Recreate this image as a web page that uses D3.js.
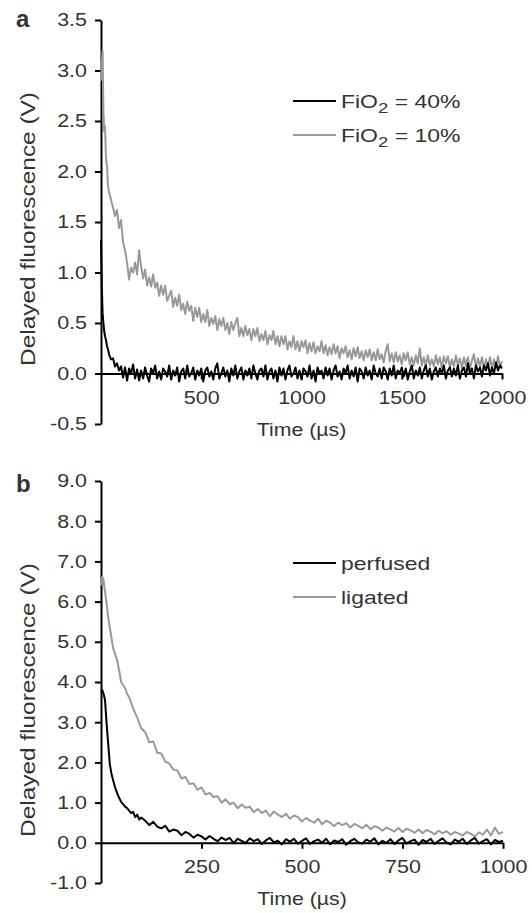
<!DOCTYPE html>
<html>
<head>
<meta charset="utf-8">
<script src="https://cdn.jsdelivr.net/npm/d3@7"></script>
<style>
  body { margin: 0; background: #fff; }
  svg text { font-family: "Liberation Sans", Arial, sans-serif; fill: #333; }
</style>
</head>
<body>
<div id="chart"></div>
<script>
// Panel a: sampling times (µs) and traces (V)
const timeA = [0,4,8,12,16,20,25,30,35,
  40,50,60,70,80,90,100,110,120,130,140,150,160,170,180,190,
  200,210,220,230,240,250,260,270,280,290,300,310,320,330,340,350,360,370,380,390,
  400,410,420,430,440,450,460,470,480,490,500,510,520,530,540,550,560,570,580,590,
  600,610,620,630,640,650,660,670,680,690,700,710,720,730,740,750,760,770,780,790,
  800,810,820,830,840,850,860,870,880,890,900,910,920,930,940,950,960,970,980,990,
  1000,1010,1020,1030,1040,1050,1060,1070,1080,1090,1100,1110,1120,1130,1140,1150,1160,1170,1180,1190,
  1200,1210,1220,1230,1240,1250,1260,1270,1280,1290,1300,1310,1320,1330,1340,1350,1360,1370,1380,1390,
  1400,1410,1420,1430,1440,1450,1460,1470,1480,1490,1500,1510,1520,1530,1540,1550,1560,1570,1580,1590,
  1600,1610,1620,1630,1640,1650,1660,1670,1680,1690,1700,1710,1720,1730,1740,1750,1760,1770,1780,1790,
  1800,1810,1820,1830,1840,1850,1860,1870,1880,1890,1900,1910,1920,1930,1940,1950,1960,1970,1980,1990,2000];

const fio40 = [1.32,0.86,0.6,0.5,0.42,0.37,0.33,0.27,0.24,
  0.19,0.14,0.15,0.07,0.1,0.03,0.07,-0.04,0.06,-0.07,0.05,0.0,0.09,-0.05,0.04,-0.07,
  0.03,-0.05,0.06,-0.02,-0.08,0.05,0.0,0.08,-0.05,0.02,
  -0.06,0.05,0.02,-0.03,0.08,-0.06,0.03,-0.02,0.06,-0.08,
  0.02,0.05,-0.05,0.08,-0.03,0.0,0.06,-0.06,0.03,-0.02,
  0.05,-0.08,0.03,0.06,-0.03,0.02,-0.06,0.05,0.1,-0.05,
  0.0,0.06,-0.03,0.03,-0.08,0.05,-0.02,0.08,-0.05,0.02,
  0.06,-0.06,0.03,-0.02,0.05,-0.05,0.08,0.0,-0.06,0.03,
  0.05,-0.03,0.08,-0.06,0.02,0.05,-0.05,0.03,-0.08,0.06,
  -0.02,0.05,-0.06,0.03,0.08,-0.03,0.0,0.06,-0.05,0.03,
  -0.06,0.05,0.02,-0.03,0.08,-0.05,0.03,-0.08,0.06,0.0,
  0.03,-0.05,0.06,-0.02,0.05,-0.06,0.03,0.08,-0.03,0.02,
  -0.06,0.05,0.0,0.08,-0.05,0.03,-0.03,0.06,-0.08,0.05,
  0.02,-0.05,0.06,-0.02,0.03,-0.06,0.08,0.0,-0.03,0.05,
  -0.05,0.06,0.02,-0.06,0.05,-0.02,0.08,-0.05,0.03,0.0,
  0.06,-0.03,0.05,-0.06,0.02,0.08,-0.05,0.03,-0.02,0.06,
  -0.05,0.03,0.08,-0.03,0.05,-0.06,0.02,0.06,-0.03,0.05,
  0.0,0.08,-0.05,0.03,0.06,-0.03,0.05,-0.02,0.08,-0.05,
  0.03,0.06,-0.03,0.1,0.0,0.05,-0.05,0.08,0.02,0.06,
  -0.03,0.08,0.03,0.1,-0.02,0.06,0.0,0.11,0.03,0.08,
  0.05];

const fio10 = [2.9,3.05,3.2,2.6,2.4,2.45,2.12,2.05,1.85,
  1.8,1.72,1.64,1.56,1.62,1.44,1.52,1.3,1.22,1.1,0.93,1.05,1.0,1.1,0.98,1.22,
  1.06,0.94,1.03,0.87,0.95,0.86,0.98,0.85,0.9,0.77,
  0.87,0.78,0.87,0.72,0.77,0.82,0.66,0.75,0.67,0.78,
  0.63,0.69,0.59,0.71,0.62,0.67,0.52,0.65,0.56,0.65,
  0.51,0.59,0.51,0.63,0.47,0.55,0.49,0.57,0.43,0.54,
  0.47,0.55,0.43,0.5,0.39,0.51,0.43,0.5,0.55,0.37,
  0.45,0.37,0.47,0.38,0.44,0.33,0.44,0.37,0.45,0.32,
  0.39,0.33,0.42,0.29,0.38,0.33,0.42,0.29,0.37,0.27,
  0.37,0.29,0.37,0.24,0.32,0.26,0.37,0.24,0.32,0.22,
  0.32,0.26,0.33,0.2,0.3,0.22,0.31,0.2,0.27,0.22,
  0.32,0.2,0.28,0.18,0.26,0.19,0.29,0.2,0.27,0.15,
  0.25,0.2,0.27,0.16,0.23,0.14,0.25,0.17,0.26,0.15,
  0.22,0.13,0.23,0.16,0.24,0.13,0.21,0.13,0.24,0.14,
  0.19,0.11,0.22,0.29,0.12,0.2,0.11,0.21,0.12,0.18,
  0.09,0.2,0.13,0.21,0.09,0.16,0.08,0.18,0.1,0.25,
  0.08,0.16,0.07,0.18,0.08,0.14,0.07,0.18,0.09,0.16,
  0.06,0.17,0.1,0.17,0.06,0.14,0.07,0.18,0.08,0.15,
  0.05,0.16,0.08,0.16,0.05,0.13,0.19,0.06,0.15,0.07,
  0.16,0.05,0.14,0.07,0.16,0.05,0.14,0.06,0.17,0.07,
  0.12];

// Panel b
const timeB = [0,3,6,10,14,18,22,26,30,35,40,45,50,55,60,65,70,75,80,85,90,95,100,
  110,120,130,140,150,160,170,180,190,200,210,220,230,240,250,260,270,280,290,300,
  310,320,330,340,350,360,370,380,390,400,410,420,430,440,450,460,470,480,490,500,
  510,520,530,540,550,560,570,580,590,600,610,620,630,640,650,660,670,680,690,700,
  710,720,730,740,750,760,770,780,790,800,810,820,830,840,850,860,870,880,890,900,
  910,920,930,940,950,960,970,980,990,1000];

const perfused = [3.75,3.8,3.72,3.55,2.95,2.45,1.95,1.72,1.56,1.38,1.24,1.12,1.02,0.96,0.9,0.86,0.8,0.74,0.77,0.64,0.7,0.58,0.63,
  0.55,0.44,0.52,0.4,0.36,0.42,0.28,0.33,0.3,0.19,
  0.27,0.22,0.13,0.2,0.16,0.08,0.17,0.1,0.04,0.13,
  0.07,0.12,-0.01,0.1,0.05,0.0,0.11,0.04,0.09,-0.03,
  0.06,0.12,0.01,0.05,-0.04,0.09,0.03,0.1,-0.02,0.05,
  0.11,-0.03,0.04,0.08,0.0,0.1,-0.04,0.06,0.02,0.09,
  -0.05,0.04,0.1,0.01,-0.02,0.08,0.03,0.11,-0.04,0.05,
  0.0,0.09,-0.03,0.06,0.12,-0.02,0.04,0.08,-0.05,0.07,
  0.02,0.1,-0.03,0.05,0.11,0.0,-0.04,0.08,0.03,0.1,
  -0.03,0.06,0.12,-0.02,0.04,0.09,-0.04,0.07,0.02,0.05];

const ligated = [6.4,6.62,6.55,6.25,5.95,5.6,5.35,5.1,4.85,4.7,4.55,4.3,4.0,3.92,3.85,3.7,3.62,3.48,3.35,3.22,3.12,2.98,2.85,
  2.75,2.5,2.52,2.24,2.22,2.02,1.97,1.82,1.8,1.6,
  1.64,1.46,1.48,1.32,1.38,1.2,1.24,1.14,1.16,1.0,
  1.08,0.96,1.0,0.86,0.95,0.87,0.9,0.76,0.84,0.74,
  0.8,0.66,0.78,0.7,0.64,0.72,0.6,0.68,0.64,0.53,
  0.62,0.55,0.5,0.6,0.46,0.55,0.5,0.42,0.5,0.44,
  0.49,0.38,0.47,0.42,0.36,0.45,0.34,0.41,0.38,0.3,
  0.38,0.33,0.28,0.37,0.27,0.35,0.31,0.25,0.33,0.24,
  0.32,0.27,0.21,0.3,0.24,0.29,0.2,0.27,0.23,0.18,
  0.27,0.22,0.16,0.26,0.2,0.33,0.18,0.38,0.22,0.27];

// Tick values
const yTicksA = [-0.5,0,0.5,1,1.5,2,2.5,3,3.5];
const xTicksA = [500,1000,1500,2000];
const yTicksB = [-1,0,1,2,3,4,5,6,7,8,9];
const xTicksB = [250,500,750,1000];

const BLACK = "#000", GREY = "#999";
const fmt1 = d => d3.format(".1f")(d).replace("\u2212", "-");

const svg = d3.select("#chart")
    .append("svg")
    .attr("width", 532)
    .attr("height", 913);

// the source lettering is wider than Arial, stretch it a bit
function widen(sel, k) {
    sel.each(function () {
        const w = this.getComputedTextLength();
        d3.select(this).attr("textLength", w * k).attr("lengthAdjust", "spacingAndGlyphs");
    });
}

function drawPanel(p) {
    const x = d3.scaleLinear().domain(p.xDomain).range(p.xRange);
    const y = d3.scaleLinear().domain(p.yDomain).range(p.yRange);
    const g = svg.append("g");

    // y axis
    const ya = g.append("g")
        .attr("transform", `translate(${p.xRange[0]},0)`)
        .call(d3.axisLeft(y).tickValues(p.yTicks).tickFormat(fmt1)
            .tickSize(6).tickSizeOuter(0).tickPadding(8));

    // x axis sits on the zero line
    const xa = g.append("g")
        .attr("transform", `translate(0,${y(0)})`)
        .call(d3.axisBottom(x).tickValues(p.xTicks).tickFormat(d3.format("d"))
            .tickSize(6).tickSizeOuter(0).tickPadding(11));

    [ya, xa].forEach(a => {
        a.select(".domain").attr("stroke", "#000").attr("stroke-width", 2);
        a.selectAll(".tick line").attr("stroke", "#000").attr("stroke-width", 2);
        a.selectAll(".tick text").attr("font-size", 18.5).attr("fill", "#333")
            .style("font-family", '"Liberation Sans", Arial, sans-serif');
        widen(a.selectAll(".tick text"), 1.16);
    });

    // traces, grey underneath
    const line = d3.line()
        .x((d, i) => x(p.time[i]))
        .y(d => y(d));
    p.series.forEach(s => {
        g.append("path")
            .datum(s.values)
            .attr("fill", "none")
            .attr("stroke", s.color)
            .attr("stroke-width", 2)
            .attr("stroke-linejoin", "round")
            .attr("d", line);
    });

    // axis titles
    const tt = g.append("text")
        .attr("x", (p.xRange[0] + p.xRange[1]) / 2)
        .attr("y", y(0) + 62)
        .attr("text-anchor", "middle")
        .attr("font-size", 18.5)
        .text("Time (\u00b5s)");
    widen(tt, 1.15);

    const yt = g.append("text")
        .attr("transform", `translate(35,${p.yLabelY}) rotate(-90)`)
        .attr("text-anchor", "middle")
        .attr("font-size", 20)
        .text("Delayed fluorescence (V)");
    widen(yt, 1.22);

    // panel letter
    g.append("text")
        .attr("x", 16)
        .attr("y", p.letterY)
        .attr("font-size", 24)
        .attr("font-weight", "bold")
        .attr("fill", "#111")
        .text(p.letter);

    // legend, black entry first
    p.series.slice().reverse().forEach((s, i) => {
        const ly = p.legendY + i * 34;
        g.append("line")
            .attr("x1", 293).attr("x2", 336)
            .attr("y1", ly).attr("y2", ly)
            .attr("stroke", s.color).attr("stroke-width", 2);
        const t = g.append("text")
            .attr("x", 341)
            .attr("y", ly + 7)
            .attr("font-size", 18.5);
        if (s.sub) {
            t.append("tspan").text(s.label[0]);
            t.append("tspan").attr("dy", 5).attr("font-size", 15).text(s.sub);
            t.append("tspan").attr("dy", -5).text(s.label[1]);
        } else {
            t.text(s.label);
        }
        widen(t, 1.24);
    });
}

drawPanel({
    letter: "a", letterY: 27,
    xDomain: [0, 2000], xRange: [101, 502],
    yDomain: [-0.5, 3.5], yRange: [424, 20],
    yTicks: yTicksA, xTicks: xTicksA,
    time: timeA,
    yLabelY: 229,
    legendY: 101,
    series: [
        { values: fio10, color: GREY, label: ["FiO", " = 10%"], sub: "2" },
        { values: fio40, color: BLACK, label: ["FiO", " = 40%"], sub: "2" }
    ]
});

drawPanel({
    letter: "b", letterY: 492,
    xDomain: [0, 1000], xRange: [101, 503],
    yDomain: [-1, 9], yRange: [883, 481],
    yTicks: yTicksB, xTicks: xTicksB,
    time: timeB,
    yLabelY: 700,
    legendY: 563,
    series: [
        { values: ligated, color: GREY, label: "ligated" },
        { values: perfused, color: BLACK, label: "perfused" }
    ]
});
</script>
</body>
</html>
